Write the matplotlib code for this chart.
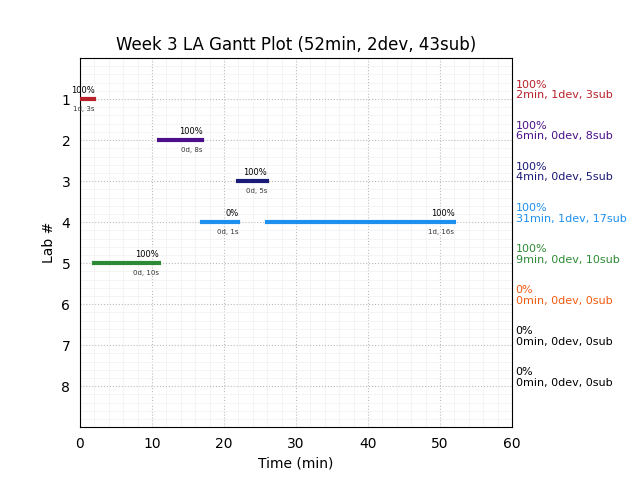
import matplotlib
matplotlib.use('Agg')
import matplotlib.pyplot as plt
from matplotlib.ticker import AutoMinorLocator

# lab rows and colours
labs = [1, 2, 3, 4, 5, 6, 7, 8]
colors = ['#b8202a', '#4b0f8a', '#1a1a78', '#1e90f0', '#2e8b35', '#f05a10', 'black', 'black']

# work segments: lab, start, end, percent label, detail label
seg_lab = [1, 2, 3, 4, 4, 5]
seg_start = [0, 11, 22, 17, 26, 2]
seg_end = [2, 17, 26, 22, 52, 11]
seg_pct = ['100%', '100%', '100%', '0%', '100%', '100%']
seg_info = ['1d, 3s', '0d, 8s', '0d, 5s', '0d, 1s', '1d, 16s', '0d, 10s']

# summary on the right
sum_pct = ['100%', '100%', '100%', '100%', '100%', '0%', '0%', '0%']
sum_info = ['2min, 1dev, 3sub', '6min, 0dev, 8sub', '4min, 0dev, 5sub',
            '31min, 1dev, 17sub', '9min, 0dev, 10sub', '0min, 0dev, 0sub',
            '0min, 0dev, 0sub', '0min, 0dev, 0sub']

fig = plt.figure(figsize=(6.4, 4.8), dpi=100)
ax = fig.add_axes([0.125, 0.110, 0.675, 0.769])

for lab, s, e, p, info in zip(seg_lab, seg_start, seg_end, seg_pct, seg_info):
    c = colors[lab - 1]
    ln = ax.hlines(lab, s, e, colors=c, linewidth=3, zorder=3)
    ln.set_capstyle('projecting')
    ax.text(e, lab - 0.1, p, fontsize=6, ha='right', va='bottom')
    ax.text(e, lab + 0.17, info, fontsize=5, ha='right', va='top', color='#333333')

for lab, p, info in zip(labs, sum_pct, sum_info):
    ax.text(60.5, lab - 0.22, p + '\n' + info, fontsize=8, color=colors[lab - 1],
            ha='left', va='center', linespacing=1.1)

ax.set_xlim(0, 60)
ax.set_ylim(9, 0)
ax.set_yticks(labs)
ax.xaxis.set_minor_locator(AutoMinorLocator())
ax.yaxis.set_minor_locator(AutoMinorLocator())
ax.tick_params(which='both', length=0, labelsize=10, pad=7)
ax.grid(True, which='major', linestyle=':', color='#bbbbbb', linewidth=0.8)
ax.grid(True, which='minor', linestyle='-', color='#f2f2f2', linewidth=0.6)
ax.set_axisbelow(True)
ax.set_xlabel('Time (min)')
ax.set_ylabel('Lab #')
ax.set_title('Week 3 LA Gantt Plot (52min, 2dev, 43sub)', fontsize=12)

fig.savefig('out.png', dpi=100)
